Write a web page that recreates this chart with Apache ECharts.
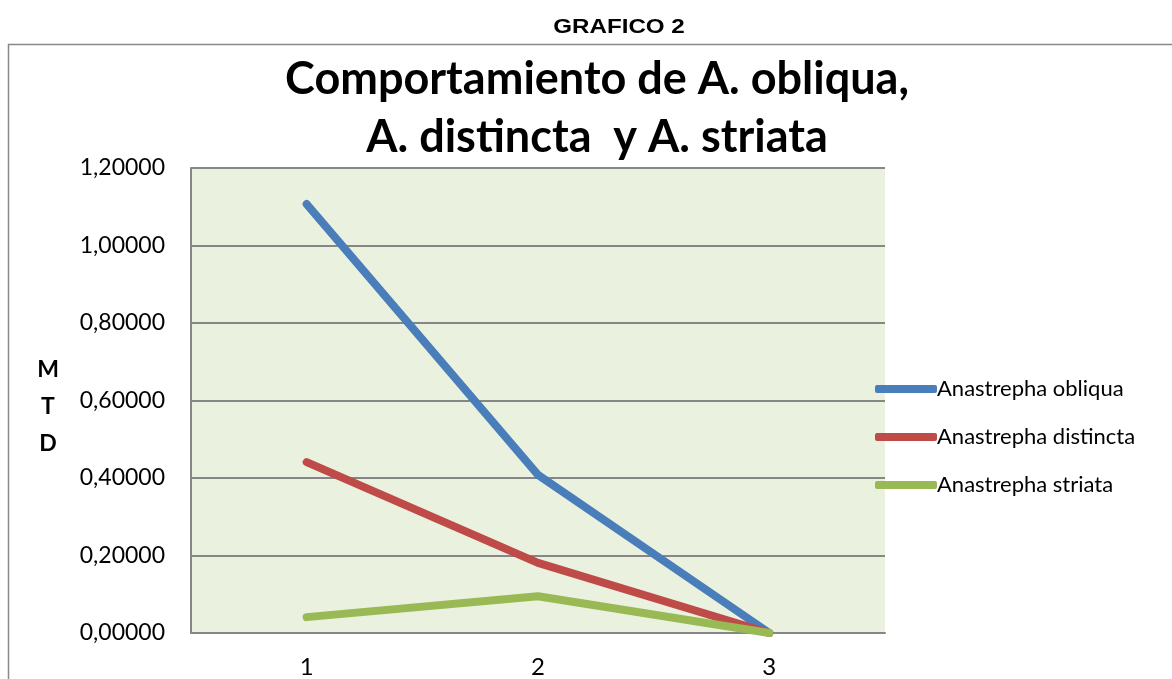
<!DOCTYPE html>
<html><head><meta charset="utf-8">
<script src="https://cdn.jsdelivr.net/npm/echarts@6/dist/echarts.min.js"></script>
<style>html,body{margin:0;padding:0;background:#fff}#c{width:1172px;height:679px}</style>
</head><body><div id="c"></div>
<script>
var categories = ['1', '2', '3'];
var seriesNames = ['Anastrepha obliqua', 'Anastrepha distincta', 'Anastrepha striata'];
var obliqua = [1.107, 0.408, 0.0];
var distincta = [0.441, 0.181, 0.0];
var striata = [0.041, 0.095, 0.0];
var colors = ['#4A7EBB', '#BE4B48', '#98B954'];

var chart = echarts.init(document.getElementById('c'));
var font = 'Lato, "Open Sans", sans-serif';
function mk(name, data, color) {
  return {
    name: name, type: 'line', data: data, symbol: 'none',
    lineStyle: {width: 8, color: color, cap: 'round', join: 'round'},
    itemStyle: {color: color}
  };
}
chart.setOption({
  animation: false,
  graphic: [
    {type: 'rect', shape: {x: 8.5, y: 44.5, width: 1200, height: 700}, style: {fill: 'none', stroke: '#898989', lineWidth: 1.5}, z: -1},
    {type: 'text', x: 619, y: 17, scaleX: 1.15, style: {text: 'GRAFICO 2', font: 'bold 21px "Liberation Sans", Arial, sans-serif', fill: '#000', align: 'center'}},
    {type: 'text', x: 597, y: 50, style: {text: 'Comportamiento de A. obliqua,\nA. distincta  y A. striata', font: 'bold 45px ' + font, fill: '#000', align: 'center', lineHeight: 58}},
    {type: 'text', x: 48, y: 351, style: {text: 'M\nT\nD', font: 'bold 23px ' + font, fill: '#000', align: 'center', lineHeight: 37}}
  ],
  grid: {left: 191, right: 287, top: 168, bottom: 46, show: true, backgroundColor: '#EBF1DF', borderWidth: 0},
  legend: {
    orient: 'vertical', left: 870, top: 373, itemGap: 26, itemWidth: 62, itemHeight: 8,
    icon: 'roundRect',
    textStyle: {fontFamily: font, fontSize: 22, color: '#000', padding: [0, 0, 0, -5]},
    data: seriesNames
  },
  xAxis: {
    type: 'category', data: categories, boundaryGap: true,
    axisLine: {lineStyle: {color: '#868686', width: 2}},
    axisTick: {show: false},
    axisLabel: {fontFamily: font, fontSize: 24, color: '#000', margin: 22}
  },
  yAxis: {
    type: 'value', min: 0, max: 1.2, interval: 0.2,
    axisLine: {show: true, lineStyle: {color: '#868686', width: 2}},
    axisTick: {show: false},
    splitLine: {lineStyle: {color: '#868686', width: 2}},
    axisLabel: {fontFamily: font, fontSize: 23, color: '#000', margin: 26,
      formatter: function (v) { return v.toFixed(5).replace('.', ','); }}
  },
  series: [mk(seriesNames[0], obliqua, colors[0]), mk(seriesNames[1], distincta, colors[1]), mk(seriesNames[2], striata, colors[2])]
});
</script></body></html>
